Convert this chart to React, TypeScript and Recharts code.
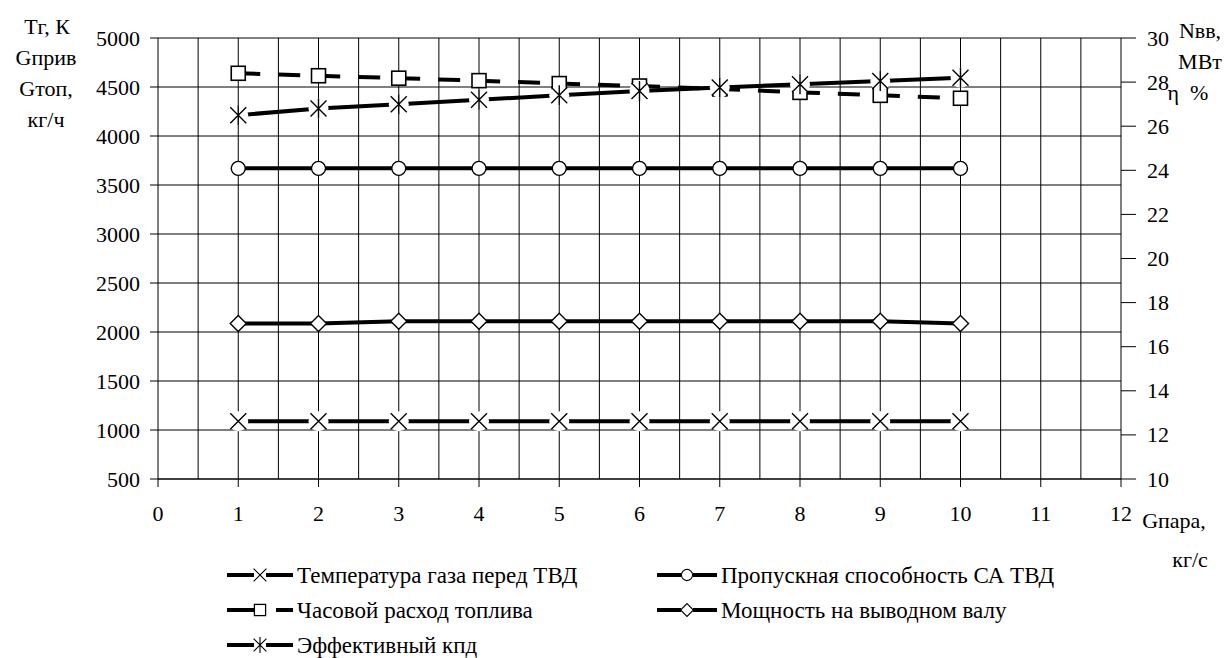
import {
  LineChart,
  Line,
  XAxis,
  YAxis,
  CartesianGrid,
  Legend,
} from "recharts";

// Gпара, кг/с
const steamFlow = [1, 2, 3, 4, 5, 6, 7, 8, 9, 10];
// left axis: Тг, К / Gприв / Gтоп, кг/ч
const gasTemp = [1090, 1090, 1090, 1090, 1090, 1090, 1090, 1090, 1090, 1090];
const throughput = [3670, 3670, 3670, 3670, 3670, 3670, 3670, 3670, 3670, 3670];
const fuelHourly = [4640, 4615, 4590, 4565, 4535, 4510, 4480, 4445, 4415, 4385];
// right axis: Nвв, МВт / η, %
const shaftPower = [17.05, 17.05, 17.15, 17.15, 17.15, 17.15, 17.15, 17.15, 17.15, 17.05];
const efficiency = [26.5, 26.8, 27.0, 27.2, 27.4, 27.6, 27.75, 27.9, 28.05, 28.2];

const xTicks = [0, 1, 2, 3, 4, 5, 6, 7, 8, 9, 10, 11, 12];
const xGrid = [0.5, 1, 1.5, 2, 2.5, 3, 3.5, 4, 4.5, 5, 5.5, 6, 6.5, 7, 7.5, 8, 8.5, 9, 9.5, 10, 10.5, 11, 11.5];
const leftTicks = [500, 1000, 1500, 2000, 2500, 3000, 3500, 4000, 4500, 5000];
const rightTicks = [10, 12, 14, 16, 18, 20, 22, 24, 26, 28, 30];

const data = steamFlow.map((x, i) => ({
  x,
  temp: gasTemp[i],
  thr: throughput[i],
  fuel: fuelHourly[i],
  power: shaftPower[i],
  eff: efficiency[i],
}));

const FONT = "Liberation Serif, Tinos, DejaVu Serif, serif";
const INK = "#000";

type Kind = "cross" | "circle" | "square" | "diamond" | "star";

function Marker({ kind, cx, cy, halo = true }: { kind: Kind; cx: number; cy: number; halo?: boolean }) {
  const s = 7;
  switch (kind) {
    case "cross":
      return (
        <g>
          {halo && <circle cx={cx} cy={cy} r={10} fill="#fff" />}
          <path d={`M${cx - 8},${cy - 8}L${cx + 8},${cy + 8}M${cx - 8},${cy + 8}L${cx + 8},${cy - 8}`} stroke={INK} strokeWidth={1.4} />
        </g>
      );
    case "star":
      return (
        <g>
          {halo && <circle cx={cx} cy={cy} r={10} fill="#fff" />}
          <path d={`M${cx - 8},${cy - 8}L${cx + 8},${cy + 8}M${cx - 8},${cy + 8}L${cx + 8},${cy - 8}M${cx},${cy - 10}L${cx},${cy + 10}`} stroke={INK} strokeWidth={1.4} />
        </g>
      );
    case "circle":
      return <circle cx={cx} cy={cy} r={s} fill="#fff" stroke={INK} strokeWidth={1.4} />;
    case "square":
      return <rect x={cx - s} y={cy - s} width={2 * s} height={2 * s} fill="#fff" stroke={INK} strokeWidth={1.6} />;
    case "diamond":
      return <path d={`M${cx},${cy - 8}L${cx + 8},${cy}L${cx},${cy + 8}L${cx - 8},${cy}Z`} fill="#fff" stroke={INK} strokeWidth={1.4} />;
  }
}

const dotFor = (kind: Kind) => (p: any) =>
  <Marker key={`${kind}-${p.index}`} kind={kind} cx={p.cx} cy={p.cy} />;

const legendItems: { label: string; kind: Kind; dashed?: boolean; col: number; row: number }[] = [
  { label: "Температура газа перед ТВД", kind: "cross", col: 0, row: 0 },
  { label: "Часовой расход топлива", kind: "square", dashed: true, col: 0, row: 1 },
  { label: "Эффективный кпд", kind: "star", col: 0, row: 2 },
  { label: "Пропускная способность СА ТВД", kind: "circle", col: 1, row: 0 },
  { label: "Мощность на выводном валу", kind: "diamond", col: 1, row: 1 },
];

function LegendBox() {
  const colX = [227, 657];
  const rowY = [575, 610, 645];
  return (
    <svg width={1226} height={110} style={{ display: "block" }}>
      {legendItems.map((it) => {
        const x0 = colX[it.col];
        const w = it.col === 0 ? 66 : 60;
        const y = rowY[it.row] - 555;
        const mid = x0 + w / 2;
        const ms = 6;
        return (
          <g key={it.label}>
            {it.dashed ? (
              <path d={`M${x0},${y}L${mid - ms},${y}M${mid + 16},${y}L${x0 + w},${y}`} stroke={INK} strokeWidth={4} />
            ) : (
              <path d={`M${x0},${y}L${mid - ms},${y}M${mid + ms},${y}L${x0 + w},${y}`} stroke={INK} strokeWidth={4} />
            )}
            <g transform={`translate(${mid},${y}) scale(0.8)`}>
              <Marker kind={it.kind} cx={0} cy={0} halo={false} />
            </g>
            <text x={x0 + w + 4} y={y} dominantBaseline="central" fontFamily={FONT} fontSize={23} fill={INK}>
              {it.label}
            </text>
          </g>
        );
      })}
    </svg>
  );
}

function RightTick(props: any) {
  const { x, y, payload } = props;
  return (
    <g>
      <line x1={x - 8} y1={y} x2={x + 7} y2={y} stroke={INK} strokeWidth={1} />
      <text x={x + 18} y={y} dominantBaseline="central" fontFamily={FONT} fontSize={22} fill={INK}>
        {payload.value}
      </text>
    </g>
  );
}

const textStyle: React.CSSProperties = {
  position: "absolute",
  fontFamily: FONT,
  fontSize: 22,
  color: INK,
  lineHeight: "22px",
  whiteSpace: "nowrap",
  transform: "translate(-50%, -50%)",
};

export default function App() {
  return (
    <div style={{ position: "absolute", left: 0, top: 0, width: 1226, height: 658, background: "#fff" }}>
      <LineChart
        width={1226}
        height={658}
        data={data}
        margin={{ top: 38, right: 0, bottom: 130, left: 0 }}
      >
        <CartesianGrid
          yAxisId="left"
          stroke={INK}
          strokeWidth={1}
          verticalValues={xGrid}
          horizontalValues={leftTicks}
        />
        <XAxis
          dataKey="x"
          type="number"
          domain={[0, 12]}
          ticks={xTicks}
          interval={0}
          height={49}
          stroke={INK}
          tickSize={8}
          tickMargin={18}
          tick={{ fill: INK, fontFamily: FONT, fontSize: 22 }}
        />
        <YAxis
          yAxisId="left"
          orientation="left"
          domain={[500, 5000]}
          ticks={leftTicks}
          interval={0}
          width={158}
          stroke={INK}
          tickSize={8}
          tickMargin={10}
          tick={{ fill: INK, fontFamily: FONT, fontSize: 22 }}
        />
        <YAxis
          yAxisId="right"
          orientation="right"
          domain={[10, 30]}
          ticks={rightTicks}
          interval={0}
          width={105}
          stroke={INK}
          tickLine={false}
          tick={<RightTick />}
        />
        <Line yAxisId="left" dataKey="temp" stroke={INK} strokeWidth={4} dot={dotFor("cross")} activeDot={false} isAnimationActive={false} />
        <Line yAxisId="left" dataKey="thr" stroke={INK} strokeWidth={4} dot={dotFor("circle")} activeDot={false} isAnimationActive={false} />
        <Line yAxisId="right" dataKey="power" stroke={INK} strokeWidth={4} dot={dotFor("diamond")} activeDot={false} isAnimationActive={false} />
        <Line yAxisId="left" dataKey="fuel" stroke={INK} strokeWidth={4} strokeDasharray="22 18" dot={dotFor("square")} activeDot={false} isAnimationActive={false} />
        <Line yAxisId="right" dataKey="eff" stroke={INK} strokeWidth={4} dot={dotFor("star")} activeDot={false} isAnimationActive={false} />
        <Legend
          layout="horizontal"
          verticalAlign="middle"
          align="center"
          wrapperStyle={{ left: 0, top: 555, width: 1226 }}
          content={() => <LegendBox />}
        />
      </LineChart>

      <div style={{ ...textStyle, left: 47, top: 27 }}>Тг, К</div>
      <div style={{ ...textStyle, left: 46, top: 58 }}>Gприв</div>
      <div style={{ ...textStyle, left: 46, top: 89 }}>Gтоп,</div>
      <div style={{ ...textStyle, left: 46, top: 120 }}>кг/ч</div>

      <div style={{ ...textStyle, left: 1200, top: 31 }}>Nвв,</div>
      <div style={{ ...textStyle, left: 1200, top: 62 }}>МВт</div>
      <div style={{ ...textStyle, left: 1188, top: 93 }}>η&nbsp;&nbsp;%</div>

      <div style={{ ...textStyle, left: 1174, top: 521 }}>Gпара,</div>
      <div style={{ ...textStyle, left: 1190, top: 560 }}>кг/с</div>
    </div>
  );
}
